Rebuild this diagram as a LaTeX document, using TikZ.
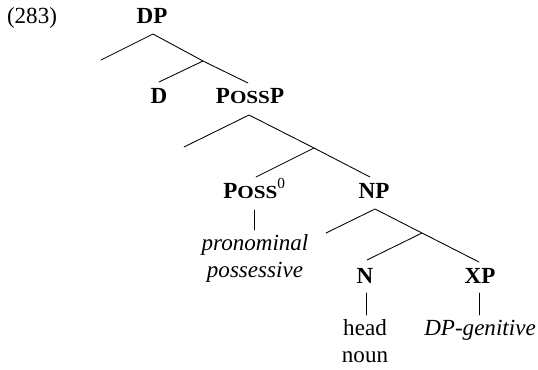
\documentclass[tikz,border=0pt]{standalone}
\usepackage{fontspec}
\usepackage{graphicx}
\setmainfont{Liberation Serif}
\newcommand\mainsz{\fontsize{17.3}{20}\selectfont}
\newcommand\smcap[1]{\scalebox{1.15}[1]{\fontsize{13.8}{15}\selectfont #1}}
\newcommand\supz{\raisebox{0.42em}{\fontsize{11.5}{12}\selectfont\mdseries 0}}
\begin{document}
\begin{tikzpicture}[x=0.75pt,y=-0.75pt,
  lbl/.style={inner sep=0pt,anchor=base,font=\mainsz\bfseries},
  txt/.style={inner sep=0pt,anchor=base,font=\mainsz},
  itxt/.style={inner sep=0pt,anchor=base,font=\mainsz\itshape},
  branch/.style={line width=0.65pt,line cap=round}]
\useasboundingbox (0,0) rectangle (538,369);
% labels
\node[txt] (num) at (32,23) {(283)};
\node[lbl] (dp) at (152,23) {DP};
\node[lbl] (d) at (159,103) {D};
\node[lbl] (possp) at (250,103) {P\smcap{OSS}P};
\node[lbl,anchor=base west] (poss) at (223,198) {P\smcap{OSS}\supz};
\node[lbl] (np) at (374,198) {NP};
\node[lbl] (n) at (365,283) {N};
\node[lbl] (xp) at (480,283) {XP};
\node[itxt] (pron1) at (255,250) {pronominal};
\node[itxt] (pron2) at (255,277) {possessive};
\node[txt] (head1) at (365,335) {head};
\node[txt] (head2) at (365,362) {noun};
\node[itxt] (gen) at (480,335) {DP-genitive};
% branch points
\coordinate (dpA) at (153,34);
\coordinate (dpS) at (101,60);
\coordinate (dpJ) at (203,61);
\coordinate (dT) at (159,82);
\coordinate (ppT) at (248,83);
\coordinate (ppA) at (249,115);
\coordinate (ppS) at (184,147);
\coordinate (ppJ) at (314,148);
\coordinate (poT) at (256,177);
\coordinate (npT) at (370,177);
\coordinate (npA) at (375,209);
\coordinate (npS) at (326,233);
\coordinate (npJ) at (422,233);
\coordinate (nT) at (367,260);
\coordinate (xpT) at (479,262);
\coordinate (poV1) at (254,210);
\coordinate (poV2) at (254,230);
\coordinate (nV1) at (366,293);
\coordinate (nV2) at (366,315);
\coordinate (xV1) at (479,293);
\coordinate (xV2) at (479,315);
% branches
\draw[branch] (dpS) -- (dpA) -- (dpJ) -- (ppT);
\draw[branch] (dpJ) -- (dT);
\draw[branch] (ppS) -- (ppA) -- (ppJ) -- (npT);
\draw[branch] (ppJ) -- (poT);
\draw[branch] (npS) -- (npA) -- (npJ) -- (xpT);
\draw[branch] (npJ) -- (nT);
\draw[branch] (poV1) -- (poV2);
\draw[branch] (nV1) -- (nV2);
\draw[branch] (xV1) -- (xV2);
\end{tikzpicture}
\end{document}
